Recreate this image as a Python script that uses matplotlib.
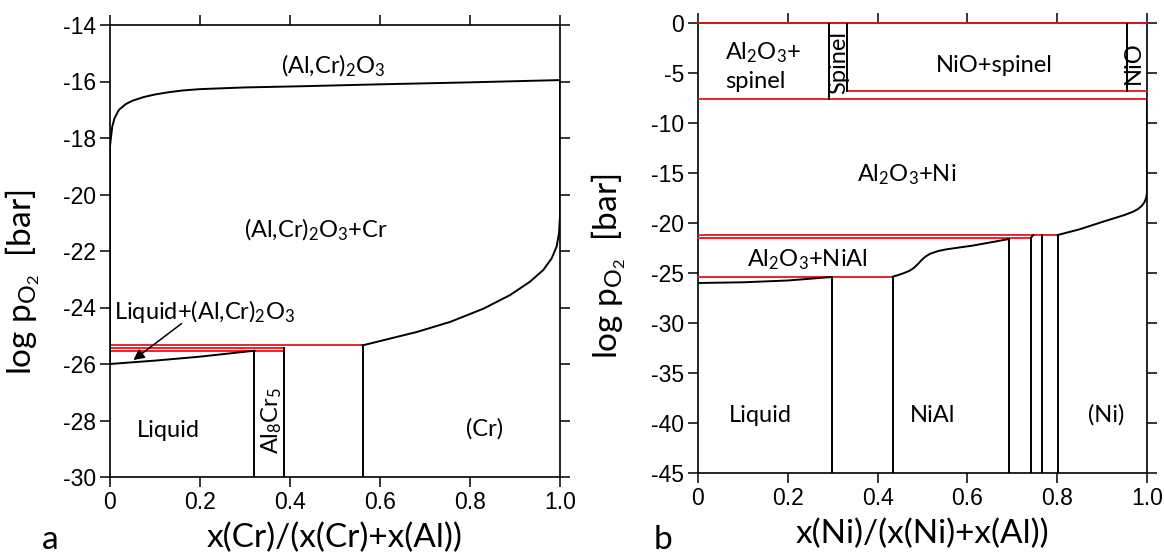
import matplotlib
matplotlib.use("Agg")
import matplotlib.pyplot as plt

plt.rcParams['mathtext.fontset'] = 'custom'
plt.rcParams['mathtext.rm'] = 'Lato'
plt.rcParams['mathtext.it'] = 'Lato:italic'

LBL_FONT = 'Lato'
TICK_FONT = 'Liberation Sans'

# ---------------- Panel a data: Al-Cr-O ----------------
a_xticks = [0, 0.2, 0.4, 0.6, 0.8, 1.0]
a_xticklabels = ["0", "0.2", "0.4", "0.6", "0.8", "1.0"]
a_yticks = [-14, -16, -18, -20, -22, -24, -26, -28, -30]
a_yticklabels = ["-14", "-16", "-18", "-20", "-22", "-24", "-26", "-28", "-30"]

a_oxide_x = [0, 0, 0.002, 0.005, 0.01, 0.02, 0.035, 0.05, 0.075, 0.1, 0.13,
             0.16, 0.2, 0.3, 0.42, 0.6, 0.8, 1.0]
a_oxide_y = [-26.0, -18.3, -18.0, -17.6, -17.3, -17.0, -16.8, -16.68, -16.55,
             -16.46, -16.38, -16.32, -16.27, -16.21, -16.17, -16.1, -16.03, -15.95]

a_liq_x = [0, 0.1, 0.2, 0.321]
a_liq_y = [-26.0, -25.88, -25.74, -25.53]

a_cr_x = [0.5615, 0.607, 0.681, 0.756, 0.83, 0.889, 0.933, 0.963, 0.9815,
          0.9926, 0.9978, 1.0, 1.0]
a_cr_y = [-25.34, -25.16, -24.87, -24.51, -24.04, -23.56, -23.09, -22.67, -22.26,
          -21.84, -21.37, -20.77, -15.95]

a_vert_x = [0.321, 0.386, 0.5615]
a_vert_top = [-25.53, -25.45, -25.34]

a_red_y = [-25.34, -25.45, -25.53]
a_red_x1 = [0.5615, 0.386, 0.386]

# ---------------- Panel b data: Ni-Al-O ----------------
b_xticks = [0, 0.2, 0.4, 0.6, 0.8, 1.0]
b_xticklabels = ["0", "0.2", "0.4", "0.6", "0.8", "1.0"]
b_yticks = [0, -5, -10, -15, -20, -25, -30, -35, -40, -45]
b_yticklabels = ["0", "-5", "-10", "-15", "-20", "-25", "-30", "-35", "-40", "-45"]

b_liq_x = [0, 0.1, 0.2, 0.2977]
b_liq_y = [-26.0, -25.93, -25.75, -25.4]

b_nial_x = [0.4336, 0.445, 0.4573, 0.47, 0.4796, 0.49, 0.4981, 0.507, 0.5167,
            0.535, 0.5538, 0.613, 0.693]
b_nial_y = [-25.37, -25.22, -25.03, -24.8, -24.53, -24.1, -23.7, -23.35, -23.08,
            -22.8, -22.63, -22.25, -21.6]

b_step_x = [0.7416, 0.7468]
b_step_y = [-21.47, -21.2]

b_ni_x = [0.801, 0.85, 0.9, 0.925, 0.95, 0.969, 0.98, 0.988, 0.994, 0.998, 1.0, 1.0]
b_ni_y = [-21.2, -20.63, -19.9, -19.55, -19.2, -18.87, -18.6, -18.3, -17.95,
          -17.5, -17.0, -7.63]

b_vert_x = [0.2977, 0.4336, 0.693, 0.7416, 0.7668, 0.801]
b_vert_top = [-25.4, -25.37, -21.6, -21.47, -21.2, -21.2]

b_upper_vert_x = [0.2925, 0.3325, 0.955]
b_upper_vert_bot = [-7.63, -6.77, -6.77]

b_red_y = [0, -6.77, -7.63, -21.2, -21.47, -25.37]
b_red_x0 = [0, 0.3325, 0, 0, 0, 0]
b_red_x1 = [1.0, 1.0, 1.0, 0.801, 0.7416, 0.4336]

RED = '#e8141c'
LW = 1.4
TICK_FS = 16.5
REG_FS = 17
AX_FS = 24
YL_FS = 24

fig = plt.figure(figsize=(11.64, 5.56), dpi=100)
axa = fig.add_axes([110/1164, 1-477/556, 450/1164, 452/556])
axb = fig.add_axes([698/1164, 1-473/556, 449/1164, 450/556])


def style(ax, xt, xtl, yt, ytl, ylim):
    ax.set_xlim(0, 1)
    ax.set_ylim(*ylim)
    ax.set_xticks(xt)
    ax.set_xticklabels(xtl, fontname=TICK_FONT, fontsize=TICK_FS)
    ax.set_yticks(yt)
    ax.set_yticklabels(ytl, fontname=TICK_FONT, fontsize=TICK_FS)
    ax.tick_params(direction='out', length=7, width=1.1, top=True, right=True,
                   color='black', pad=3)
    for s in ax.spines.values():
        s.set_linewidth(1.2)


style(axa, a_xticks, a_xticklabels, a_yticks, a_yticklabels, (-30, -14))
style(axb, b_xticks, b_xticklabels, b_yticks, b_yticklabels, (-45, 0))

# ---- Panel a drawing ----
for y, x1 in zip(a_red_y, a_red_x1):
    axa.plot([0, x1], [y, y], color=RED, lw=1.3, zorder=3)
axa.plot(a_oxide_x, a_oxide_y, color='black', lw=LW, zorder=4)
axa.plot(a_liq_x, a_liq_y, color='black', lw=LW, zorder=4)
axa.plot(a_cr_x, a_cr_y, color='black', lw=LW, zorder=4)
for x, yt in zip(a_vert_x, a_vert_top):
    axa.plot([x, x], [-30, yt], color='black', lw=LW, zorder=4)

tkw = dict(fontname=LBL_FONT, fontsize=REG_FS, ha='center', va='center')
axa.text(0.496, -15.45, '(Al,Cr)$_2$O$_3$', **tkw)
axa.text(0.458, -21.25, '(Al,Cr)$_2$O$_3$+Cr', **tkw)
axa.text(0.13, -28.35, 'Liquid', **tkw)
axa.text(0.833, -28.3, '(Cr)', **tkw)
axa.text(0.36, -28.0, 'Al$_8$Cr$_5$', rotation=90, **tkw)
axa.text(0.211, -24.15, 'Liquid+(Al,Cr)$_2$O$_3$', **tkw)
axa.annotate('', xy=(0.052, -25.86), xytext=(0.159, -24.57),
             arrowprops=dict(arrowstyle='-|>', color='black', lw=1.1,
                             mutation_scale=16, shrinkA=0, shrinkB=0))

# ---- Panel b drawing ----
for y, x0, x1 in zip(b_red_y, b_red_x0, b_red_x1):
    axb.plot([x0, x1], [y, y], color=RED, lw=1.3, zorder=3, clip_on=False)
axb.plot(b_liq_x, b_liq_y, color='black', lw=LW, zorder=4)
axb.plot(b_nial_x, b_nial_y, color='black', lw=LW, zorder=4)
axb.plot(b_step_x, b_step_y, color='black', lw=LW, zorder=4)
axb.plot(b_ni_x, b_ni_y, color='black', lw=LW, zorder=4)
for x, yt in zip(b_vert_x, b_vert_top):
    axb.plot([x, x], [-45, yt], color='black', lw=LW, zorder=4)
for x, yb in zip(b_upper_vert_x, b_upper_vert_bot):
    axb.plot([x, x], [yb, 0], color='black', lw=LW, zorder=4)

axb.text(0.06, -3.0, 'Al$_2$O$_3$+', fontname=LBL_FONT, fontsize=REG_FS,
         ha='left', va='center')
axb.text(0.06, -5.9, 'spinel', fontname=LBL_FONT, fontsize=REG_FS, ha='left', va='center')
axb.text(0.3125, -4.0, 'Spinel', rotation=90, **tkw)
axb.text(0.969, -4.0, 'NiO', rotation=90, **tkw)
axb.text(0.659, -4.2, 'NiO+spinel', **tkw)
axb.text(0.465, -15.2, 'Al$_2$O$_3$+Ni', **tkw)
axb.text(0.244, -23.7, 'Al$_2$O$_3$+NiAl', **tkw)
axb.text(0.14, -39.2, 'Liquid', **tkw)
axb.text(0.522, -39.2, 'NiAl', **tkw)
axb.text(0.908, -39.2, '(Ni)', **tkw)

# ---- Axis labels ----
xl = dict(fontname=LBL_FONT, fontsize=AX_FS)
axa.set_xlabel('x(Cr)/(x(Cr)+x(Al))', labelpad=6, **xl)
axb.set_xlabel('x(Ni)/(x(Ni)+x(Al))', labelpad=6, **xl)
yl_text = 'log p$_{\\mathregular{O_2}}$  [bar]'
axa.set_ylabel(yl_text, fontname=LBL_FONT, fontsize=YL_FS)
axb.set_ylabel(yl_text, fontname=LBL_FONT, fontsize=YL_FS)
axa.yaxis.set_label_coords(-0.15, 0.43)
axb.yaxis.set_label_coords(-0.155, 0.46)

fig.text(50/1164, 1-540/556, 'a', fontname=LBL_FONT, fontsize=AX_FS, ha='center', va='center')
fig.text(663/1164, 1-540/556, 'b', fontname=LBL_FONT, fontsize=AX_FS, ha='center', va='center')

fig.savefig('out.png', dpi=100)
